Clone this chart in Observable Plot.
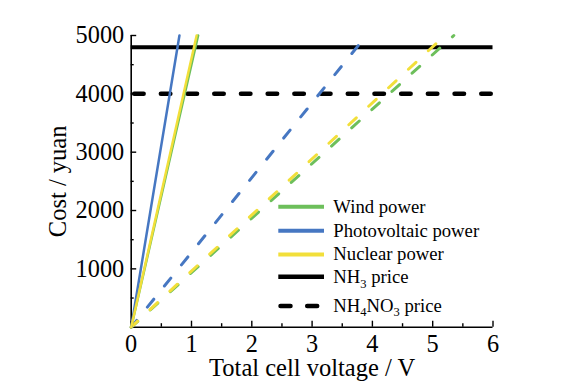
<!DOCTYPE html>
<html><head><meta charset="utf-8">
<script src="https://cdn.jsdelivr.net/npm/d3@7"></script>
<script src="https://cdn.jsdelivr.net/npm/@observablehq/plot@0.6"></script>
<style>
html,body{margin:0;padding:0;background:#fff;}
#wrap{position:relative;width:566px;height:385px;}
#wrap svg, #wrap text, #wrap tspan{font-family:'Liberation Serif','Times New Roman',serif !important;}
#legend{position:absolute;left:0;top:0;pointer-events:none;}
</style></head><body><div id="wrap"></div>
<script>
// ---- data ----
const sources = ["Wind power", "Photovoltaic power", "Nuclear power"];
const sourceColors = ["#6dbf5b", "#4677c2", "#f2df3a"];
const costEnds = [0, 5000];                       // cost at start / end of each cost line
const voltageNH3At5000 = [1.11, 0.80, 1.085];     // solid lines reach 5000 yuan here
const voltageNH4NO3At5000 = [5.35, 3.90, 5.20];   // dashed lines reach 5000 yuan here
const nh3Price = 4800;
const nh4no3Price = 4000;
const xDomain = [0, 6];
const yDomain = [0, 5000];
const xMajorTicks = [0, 1, 2, 3, 4, 5, 6];
const xMinorTicks = [0.5, 1.5, 2.5, 3.5, 4.5, 5.5];
const yMajorTicks = [1000, 2000, 3000, 4000, 5000];
const yMinorTicks = [500, 1500, 2500, 3500, 4500];
const xLabel = "Total cell voltage / V";
const yLabel = "Cost / yuan";
const legendLabels = ["Wind power", "Photovoltaic power", "Nuclear power", "NH3 price", "NH4NO3 price"];

// ---- build tables ----
const solidRows = [];
const dashedRows = [];
sources.forEach((s, i) => {
  solidRows.push({source: s, v: 0, cost: costEnds[0]}, {source: s, v: voltageNH3At5000[i], cost: costEnds[1]});
  dashedRows.push({source: s, v: 0, cost: costEnds[0]}, {source: s, v: voltageNH4NO3At5000[i], cost: costEnds[1]});
});

const FONT = "'Liberation Serif', 'Times New Roman', serif";

const chart = Plot.plot({
  width: 566,
  height: 385,
  marginLeft: 130.7,
  marginRight: 73.5,
  marginTop: 35,
  marginBottom: 58.3,
  style: {fontFamily: FONT, fontSize: "24px", background: "white", color: "black", overflow: "visible"},
  x: {domain: xDomain},
  y: {domain: yDomain},
  color: {domain: sources, range: sourceColors},
  marks: [
    // axis lines
    Plot.ruleY([0], {x1: xDomain[0], x2: xDomain[1], stroke: "black", strokeWidth: 1.6}),
    Plot.ruleX([0], {y1: yDomain[0], y2: yDomain[1], stroke: "black", strokeWidth: 1.6}),
    // inward ticks
    Plot.ruleX(xMajorTicks, {x: d => d, y1: 0, y2: 0, insetTop: -6, stroke: "black", strokeWidth: 1.4}),
    Plot.ruleX(xMinorTicks, {x: d => d, y1: 0, y2: 0, insetTop: -3.5, stroke: "black", strokeWidth: 1.4}),
    Plot.ruleY(yMajorTicks, {y: d => d, x1: 0, x2: 0, insetRight: -5.5, stroke: "black", strokeWidth: 1.4}),
    Plot.ruleY(yMinorTicks, {y: d => d, x1: 0, x2: 0, insetRight: -3, stroke: "black", strokeWidth: 1.4}),
    // tick labels
    Plot.axisX({ticks: xMajorTicks, tickSize: 0, tickPadding: 8, tickFormat: d => String(d), label: null,
      fontSize: 24.3, fontFamily: FONT, fontVariant: "normal"}),
    Plot.axisY({ticks: yMajorTicks, tickSize: 0, tickPadding: 7, tickFormat: d => String(d), label: null,
      fontSize: 24.3, fontFamily: FONT, fontVariant: "normal"}),
    // price lines
    Plot.ruleY([nh3Price], {x1: xDomain[0], x2: xDomain[1], stroke: "black", strokeWidth: 4}),
    Plot.ruleY([nh4no3Price], {x1: xDomain[0], x2: xDomain[1], stroke: "black", strokeWidth: 4.5,
      strokeDasharray: "9.5,17.2", strokeDashoffset: -3.45, strokeLinecap: "round"}),
    // cost lines
    Plot.line(dashedRows, {x: "v", y: "cost", z: "source", stroke: "source", strokeWidth: 3,
      strokeDasharray: "10.2,16.95", strokeDashoffset: 1.4, strokeLinecap: "round"}),
    Plot.line(solidRows, {x: "v", y: "cost", z: "source", stroke: "source", strokeWidth: 2.5}),
    // axis titles
    Plot.text([xLabel], {frameAnchor: "bottom", lineAnchor: "middle", textAnchor: "middle", dy: 41,
      text: d => d, fontSize: 24.5, fill: "black"}),
    Plot.text([yLabel], {frameAnchor: "left", lineAnchor: "middle", textAnchor: "middle", dx: -73.5, rotate: -90,
      text: d => d, fontSize: 24.5, fill: "black"})
  ]
});

const wrap = document.getElementById("wrap");
wrap.appendChild(chart);

// ---- legend overlay ----
const lg = d3.select(wrap).append("svg").attr("id", "legend")
  .attr("width", 566).attr("height", 385)
  .style("font-family", FONT).style("font-size", "18.7px");

const baselines = [213.3, 236.7, 260, 283.3, 311.7];
const sampleY = [206.7, 230.8, 254.4, 276.8, 306];
const sampleStroke = [sourceColors[0], sourceColors[1], sourceColors[2], "black", "black"];
legendLabels.forEach((lab, i) => {
  const line = lg.append("line")
    .attr("x1", i === 4 ? 280.5 : 278.3).attr("x2", i === 4 ? 318 : 324)
    .attr("y1", sampleY[i]).attr("y2", sampleY[i])
    .attr("stroke", sampleStroke[i])
    .attr("stroke-width", i >= 3 ? 4.5 : 4);
  if (i === 4) line.attr("stroke-dasharray", "10,16.7").attr("stroke-linecap", "round");
  const t = lg.append("text").attr("x", 333.3).attr("y", baselines[i]).attr("fill", "black");
  // digits in chemical formulas become subscripts
  const parts = lab.match(/(\d+|[^\d]+)/g);
  let shifted = false;
  parts.forEach(p => {
    if (/^\d+$/.test(p)) {
      t.append("tspan").attr("dy", 4.5).attr("font-size", "12.5px").text(p);
      shifted = true;
    } else {
      const ts = t.append("tspan").text(p);
      if (shifted) { ts.attr("dy", -4.5); shifted = false; }
    }
  });
});
</script>
</body></html>
